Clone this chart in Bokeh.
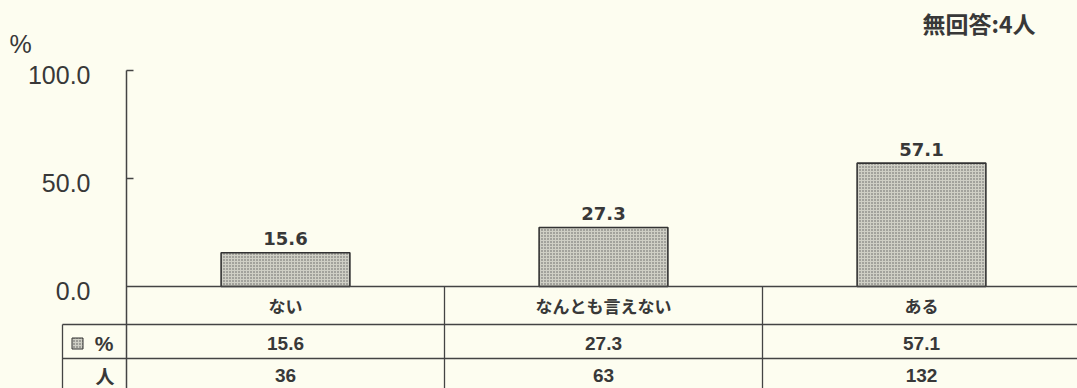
from bokeh.plotting import figure
from bokeh.models import Range1d
from bokeh.core.properties import value
from bokeh.embed import file_html
from bokeh.resources import INLINE

# ---- data ----
categories = ["ない", "なんとも言えない", "ある"]
pct = [15.6, 27.3, 57.1]
counts = [36, 63, 132]
y_ticks = [0, 50, 100]
y_tick_labels = ["0.0", "50.0", "100.0"]
note = "無回答:4人"
row_labels = ["%", "人"]

# ---- style / layout ----
BG = "#fdfdf0"
INK = "#383838"
LINE = "#444444"
W, H = 1077, 388
AX_X, AX_Y = 126, 286      # pixel position of the axis origin inside the figure
CAT_PX = 318               # pixels per category
Y_PX = 2.16                # pixels per percent
ROW_LINES_PX = [38, 72]    # table row separators below the axis
TEXT_ROWS_PX = [19, 57, 89]  # text centres of the table rows below the axis
LABEL_COL_PX = 64          # width of the table's label column

x_axis = 0.5
x_range = Range1d(x_axis - AX_X / CAT_PX, x_axis + (W - AX_X) / CAT_PX)
y_range = Range1d(-(H - AX_Y) / Y_PX, AX_Y / Y_PX)

p = figure(width=W, height=H, x_range=x_range, y_range=y_range,
           x_axis_location=None, y_axis_location=None,
           output_backend="svg", toolbar_location=None, min_border=0)
p.xgrid.visible = False
p.ygrid.visible = False
p.outline_line_color = None
p.background_fill_color = BG
p.border_fill_color = BG

xs = [i + 1 for i in range(len(categories))]
x_end = x_range.end
y_bot = y_range.start
r1, r2 = [-v / Y_PX for v in ROW_LINES_PX]
t0, t1, t2 = [-v / Y_PX for v in TEXT_ROWS_PX]
x_lab = x_axis - LABEL_COL_PX / CAT_PX

# bars
p.vbar(x=xs, top=pct, bottom=0, width=0.405,
       fill_color="#cfcfc5", hatch_pattern="dot", hatch_scale=3,
       hatch_color="#5e5e5e", hatch_weight=1,
       line_color="#333333", line_width=1.6)

# axis line and ticks
p.segment(x0=[x_axis], y0=[max(y_ticks)], x1=[x_axis], y1=[y_bot], line_color=LINE, line_width=1.5)
p.ray(x=[x_axis] * (len(y_ticks) - 1), y=y_ticks[1:], length=7, length_units="screen",
      angle=0, line_color=LINE, line_width=1.5)
p.text(x=[x_axis] * len(y_ticks), y=y_ticks, text=y_tick_labels, x_offset=-36, y_offset=4,
       text_align="right", text_baseline="middle", text_font=value("Liberation Sans"),
       text_font_size="25px", text_color=INK)
p.text(x=[x_range.start], y=[max(y_ticks)], text=["%"], x_offset=9, y_offset=-27,
       text_align="left", text_baseline="middle", text_font=value("Liberation Sans"),
       text_font_size="25px", text_color=INK)

# table lines
p.segment(x0=[x_axis], y0=[0], x1=[x_end], y1=[0], line_color=LINE, line_width=1.5)
p.segment(x0=[x_lab, x_lab], y0=[r1, r2], x1=[x_end, x_end], y1=[r1, r2], line_color=LINE, line_width=1.3)
p.segment(x0=[x + 0.5 for x in xs[:-1]], y0=[0] * (len(xs) - 1),
          x1=[x + 0.5 for x in xs[:-1]], y1=[y_bot] * (len(xs) - 1), line_color=LINE, line_width=1.3)
p.segment(x0=[x_lab], y0=[r1], x1=[x_lab], y1=[y_bot], line_color=LINE, line_width=1.3)

# bar value labels
p.text(x=xs, y=pct, text=[f"{v:.1f}" for v in pct], y_offset=-14,
       text_align="center", text_baseline="alphabetic", text_font=value("DejaVu Sans"),
       text_font_size="18px", text_font_style="bold", text_color=INK)

# table content
p.text(x=xs, y=[t0] * len(xs), text=categories, text_align="center", text_baseline="middle",
       text_font=value("Noto Sans CJK JP"), text_font_size="17px", text_font_style="bold",
       text_color=INK)
p.text(x=xs, y=[t1] * len(xs), text=[f"{v:.1f}" for v in pct],
       text_align="center", text_baseline="middle", text_font=value("Liberation Sans"),
       text_font_size="19px", text_font_style="bold", text_color=INK)
p.text(x=xs, y=[t2] * len(xs), text=[str(c) for c in counts],
       text_align="center", text_baseline="middle", text_font=value("Liberation Sans"),
       text_font_size="19px", text_font_style="bold", text_color=INK)

# row labels
p.rect(x=[x_axis - 49 / CAT_PX], y=[t1], width=11, height=11,
       width_units="screen", height_units="screen",
       fill_color="#cfcfc5", hatch_pattern="dot", hatch_scale=3, hatch_color="#555555",
       line_color="#333333", line_width=1)
p.text(x=[x_axis], y=[t1], text=[row_labels[0]], x_offset=-13,
       text_align="right", text_baseline="middle", text_font=value("Liberation Sans"),
       text_font_size="21px", text_font_style="bold", text_color=INK)
p.text(x=[x_axis], y=[t2], text=[row_labels[1]], x_offset=-12,
       text_align="right", text_baseline="middle", text_font=value("Noto Sans CJK JP"),
       text_font_size="19px", text_font_style="bold", text_color=INK)

# note
p.text(x=[x_end], y=[y_range.end], text=[note], x_offset=-42, y_offset=22,
       text_align="right", text_baseline="middle", text_font=value("Noto Sans CJK JP"),
       text_font_size="23px", text_font_style="bold", text_color=INK)

html = file_html(p, INLINE)
html = html.replace("<head>", "<head><style>html,body{background:%s;}</style>" % BG, 1)
open("out.html", "w").write(html)
